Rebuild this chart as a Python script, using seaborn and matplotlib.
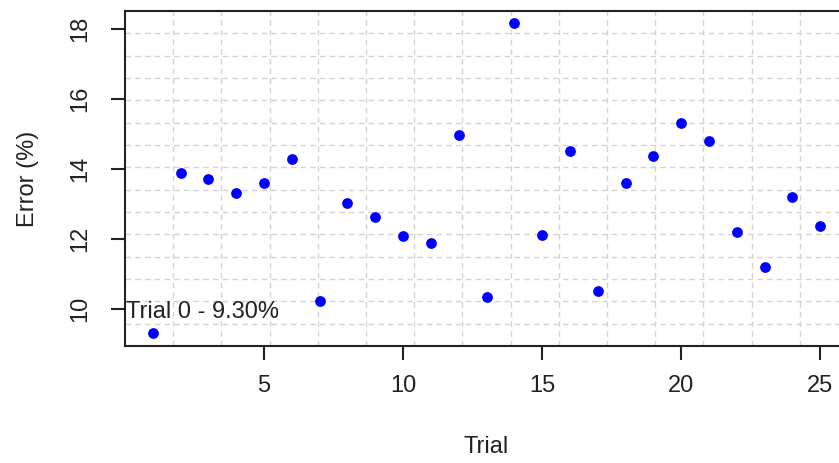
import numpy as np
import pandas as pd
import matplotlib
matplotlib.use("Agg")
import matplotlib.pyplot as plt
import seaborn as sns

trials = list(range(1, 26))
errors = [9.30, 13.88, 13.71, 13.31, 13.59, 14.29, 10.22, 13.02, 12.62, 12.09,
          11.88, 14.97, 10.35, 18.17, 12.10, 14.51, 10.50, 13.60, 14.38, 15.31,
          14.79, 12.21, 11.19, 13.19, 12.38]
x_ticks = [5, 10, 15, 20, 25]
y_ticks = [10, 12, 14, 16, 18]
annotation = "Trial 0 - 9.30%"

sns.set_style("white")
plt.rcParams['font.family'] = ['Liberation Sans', 'DejaVu Sans']

df = pd.DataFrame({"Trial": trials, "Error (%)": errors})

fig = plt.figure(figsize=(8.39, 4.63), dpi=100)
ax = fig.add_axes([125/839, 1 - 346/463, (848-125)/839, (346-11)/463])

xlim = (0.0, 26.0)
ylim = (8.94, 18.51)
ax.set_xlim(*xlim)
ax.set_ylim(*ylim)

# R-style grid: 15 equal divisions
gkw = dict(color="#d3d3d3", linewidth=1.0, linestyle=(0, (4, 3)), zorder=0)
for gx in np.linspace(xlim[0], xlim[1], 16)[1:-1]:
    ax.axvline(gx, **gkw)
for gy in np.linspace(ylim[0], ylim[1], 16)[1:-1]:
    ax.axhline(gy, **gkw)

sns.scatterplot(data=df, x="Trial", y="Error (%)", ax=ax, color="#0000ff",
                s=60, linewidth=0, zorder=3)

ax.text(0.05, 9.9, annotation, ha="left", va="center", fontsize=17, color="#222222")

ax.set_xticks(x_ticks)
ax.set_yticks(y_ticks)
ax.set_xticklabels([str(t) for t in x_ticks], fontsize=17)
ax.set_yticklabels([str(t) for t in y_ticks], fontsize=17, rotation=90, va="center")
ax.tick_params(axis="both", direction="out", length=10, width=1.5, color="#222222",
               labelcolor="#222222", pad=14, left=True, bottom=True)
ax.tick_params(axis="x", pad=11)
ax.set_xlabel("Trial", fontsize=17, labelpad=28, color="#222222")
ax.set_ylabel("Error (%)", fontsize=17, labelpad=22, color="#222222")
for side in ["left", "bottom", "top"]:
    ax.spines[side].set_visible(True)
    ax.spines[side].set_linewidth(1.5)
    ax.spines[side].set_color("#222222")
ax.spines["right"].set_visible(False)

fig.savefig("out.png", dpi=100)
